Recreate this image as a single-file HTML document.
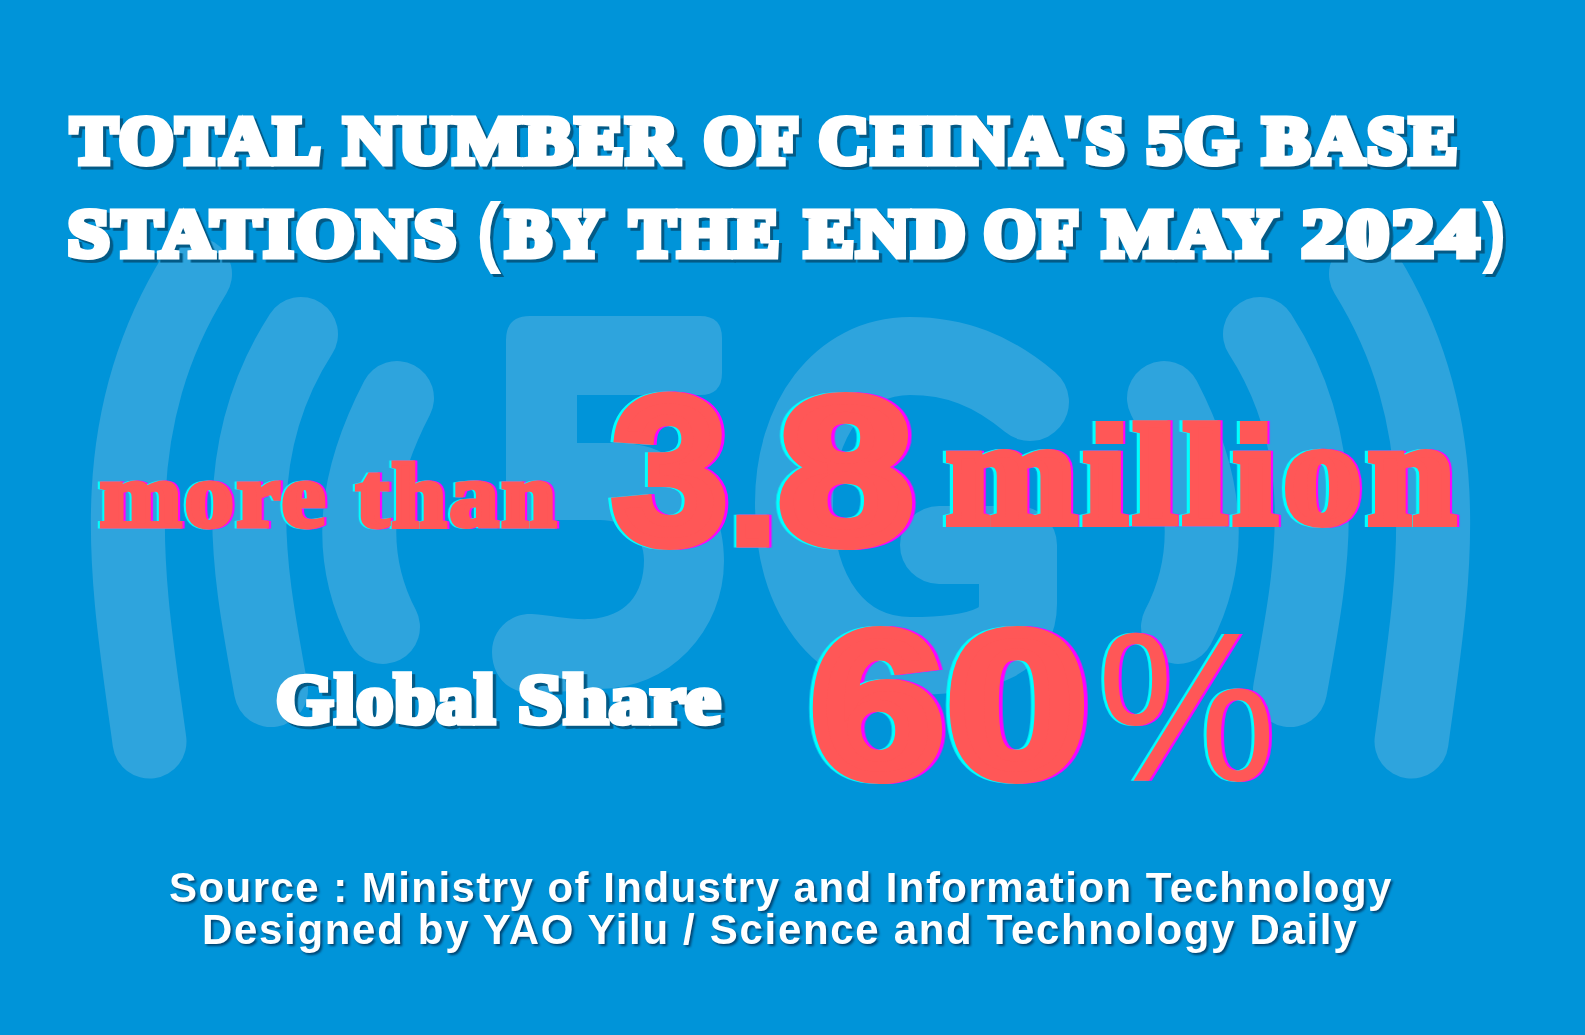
<!DOCTYPE html>
<html>
<head>
<meta charset="utf-8">
<style>
html,body{margin:0;padding:0;}
body{width:1585px;height:1035px;overflow:hidden;background:#0094d9;position:relative;}
.bg{position:absolute;left:0;top:0;}
.t{position:absolute;white-space:nowrap;line-height:1;transform-origin:0 0;}
.slab{font-family:"Liberation Serif",serif;font-weight:bold;}
.sans{font-family:"Liberation Sans",sans-serif;font-weight:bold;}
.wh{color:#fff;-webkit-text-stroke:5px #fff;filter:drop-shadow(3px 3px 0 #035a86);}
.rd{--fo:3px;--fm:3px;color:#ff5757;-webkit-text-stroke:var(--sw) #ff5757;filter:drop-shadow(calc(-1*var(--fo)) 0 0 #00ffff) drop-shadow(var(--fm) 0 0 #ff00ff);}
.di{position:relative;}
.ll{display:inline-block;transform:scaleY(0.953);transform-origin:50% 84%;}
.di::after{content:"";position:absolute;left:11.8px;top:30px;width:26px;height:23px;background:#ff5757;}
.di2::after{left:6px;}
.src{color:#fff;filter:drop-shadow(2px 2px 0.8px rgba(0,50,90,0.8));}
</style>
</head>
<body>
<svg class="bg" width="1585" height="1035" viewBox="0 0 1585 1035">
<g fill="none" stroke="#2ea4dd" stroke-width="74" stroke-linecap="round" stroke-linejoin="round">
<!-- right arcs -->
<path d="M1164,398 C1203.6,474.3 1217.9,550.7 1178,627"/>
<path d="M1260,334 C1336.6,452.7 1311.4,571.3 1290,690"/>
<path d="M1366,274 C1462.7,429.8 1432.7,585.7 1411.5,741.5"/>
<!-- left arcs (mirror around x=781) -->
<path d="M397,398 C357.4,474.3 343.1,550.7 383,627"/>
<path d="M301,334 C224.4,452.7 249.6,571.3 271,690"/>
<path d="M195,274 C98.3,429.8 128.3,585.7 149.5,741.5"/>
<!-- G -->
<path stroke-width="78" d="M1030,402 C992,370 955,356 910,356 C840,356 794,420 794,503 C794,596 840,656 910,656 C992,656 1018,638 1018,604 L1018,545 L939,545"/>
</g>
<!-- 5 -->
<path fill="#2ea4dd" d="M506,340 Q506,316 530,316 L700,316 Q722,316 722,338 L722,373 Q722,395 700,395 L577,395 L577,443 L620,443 C680,443 724,495 724,561 A124,128 0 0 1 600,689 C570,690 545,694 530,693 C506,692 492,674 492,652 C492,630 510,613 532,614 C550,615 570,620 590,619 C625,617 644,595 644,560 C644,535 625,520 600,520 L506,520 Z"/>
</svg>

<div class="t slab wh" style="left:70.8px;top:106.8px;font-size:67px;-webkit-text-stroke-width:7px;letter-spacing:3px;transform:scaleX(1.0361)">TOTAL</div>
<div class="t slab wh" style="left:344.2px;top:106.8px;font-size:67px;-webkit-text-stroke-width:7px;letter-spacing:3px;transform:scaleX(1.0680)">NUMBER</div>
<div class="t slab wh" style="left:703.9px;top:106.8px;font-size:67px;-webkit-text-stroke-width:7px;letter-spacing:3px;transform:scaleX(0.9854)">OF</div>
<div class="t slab wh" style="left:818.7px;top:106.8px;font-size:67px;-webkit-text-stroke-width:7px;letter-spacing:3px;transform:scaleX(1.0258)">CHINA&#39;S</div>
<div class="t slab wh" style="left:1146.9px;top:106.8px;font-size:67px;-webkit-text-stroke-width:7px;letter-spacing:3px;transform:scaleX(1.0264)">5G</div>
<div class="t slab wh" style="left:1262.8px;top:106.8px;font-size:67px;-webkit-text-stroke-width:7px;letter-spacing:3px;transform:scaleX(1.0527)">BASE</div>
<div class="t slab wh" style="left:67.5px;top:199.5px;font-size:67px;-webkit-text-stroke-width:7px;letter-spacing:3px;transform:scaleX(1.1074)">STATIONS</div>
<div class="t slab wh" style="left:506.1px;top:199.5px;font-size:67px;-webkit-text-stroke-width:7px;letter-spacing:3px;transform:scaleX(1.0100)">BY</div>
<div class="t slab wh" style="left:630.3px;top:199.5px;font-size:67px;-webkit-text-stroke-width:7px;letter-spacing:3px;transform:scaleX(1.0086)">THE</div>
<div class="t slab wh" style="left:804.5px;top:199.5px;font-size:67px;-webkit-text-stroke-width:7px;letter-spacing:3px;transform:scaleX(1.0853)">END</div>
<div class="t slab wh" style="left:984.0px;top:199.5px;font-size:67px;-webkit-text-stroke-width:7px;letter-spacing:3px;transform:scaleX(0.9854)">OF</div>
<div class="t slab wh" style="left:1102.7px;top:199.5px;font-size:67px;-webkit-text-stroke-width:7px;letter-spacing:3px;transform:scaleX(1.0927)">MAY</div>
<div class="t slab wh" style="left:1302.3px;top:199.5px;font-size:67px;-webkit-text-stroke-width:7px;letter-spacing:3px;transform:scaleX(1.2322)">2024</div>
<div class="t slab wh" style="left:275.6px;top:666.3px;font-size:69px;-webkit-text-stroke-width:5.5px;letter-spacing:1px;transform:scaleX(1.0707)">Global</div>
<div class="t slab wh" style="left:517.7px;top:666.3px;font-size:69px;-webkit-text-stroke-width:5.5px;letter-spacing:1px;transform:scaleX(1.1549)">Share</div>
<div class="t sans wh" style="left:476.3px;top:192px;font-size:78px;-webkit-text-stroke:0;transform:scaleX(0.9727)">(</div>
<div class="t sans wh" style="left:1482.0px;top:192px;font-size:78px;-webkit-text-stroke:0;transform:scaleX(0.9545)">)</div>

<div class="t slab rd" id="more" style="--sw:5px;--fo:2px;--fm:2px;left:100.4px;top:449.5px;font-size:91px;letter-spacing:3px;transform:scaleX(1.075)">more than</div>
<div class="t sans rd" style="--sw:12px;left:612.5px;top:367.5px;font-size:206px;transform:scaleX(0.993)">3</div>
<div class="t sans rd" style="--sw:12px;left:729.5px;top:367.5px;font-size:206px;transform-origin:0 180px;transform:scale(0.8,0.77)">.</div>
<div class="t sans rd" style="--sw:12px;left:778.6px;top:367.5px;font-size:206px;transform:scaleX(1.166)">8</div>
<div class="t slab rd" id="mil" style="--sw:8px;--fo:2.5px;--fm:2.5px;left:946px;top:398.6px;font-size:148px;letter-spacing:6px;transform:scaleX(1.061)">m<span class="di">ı</span><span class="ll">ll</span><span class="di di2">ı</span>on</div>

<div class="t sans rd" style="--sw:12px;left:810.7px;top:601.8px;font-size:206px;transform:scaleX(1.158)">6</div>
<div class="t sans rd" style="--sw:12px;left:946.6px;top:601.8px;font-size:206px;transform:scaleX(1.223)">0</div>
<div class="t rd" id="pct" style="--sw:0px;font-family:'Liberation Sans',sans-serif;left:1096.5px;top:600px;font-size:214px;transform:scaleX(0.942)">%</div>

<div class="t sans src" id="s1" style="left:169px;top:866.5px;font-size:42px;letter-spacing:1.45px">Source : Ministry of Industry and Information Technology</div>
<div class="t sans src" id="s2" style="left:202px;top:908.5px;font-size:42px;letter-spacing:1.68px">Designed by YAO Yilu / Science and Technology Daily</div>
</body>
</html>
